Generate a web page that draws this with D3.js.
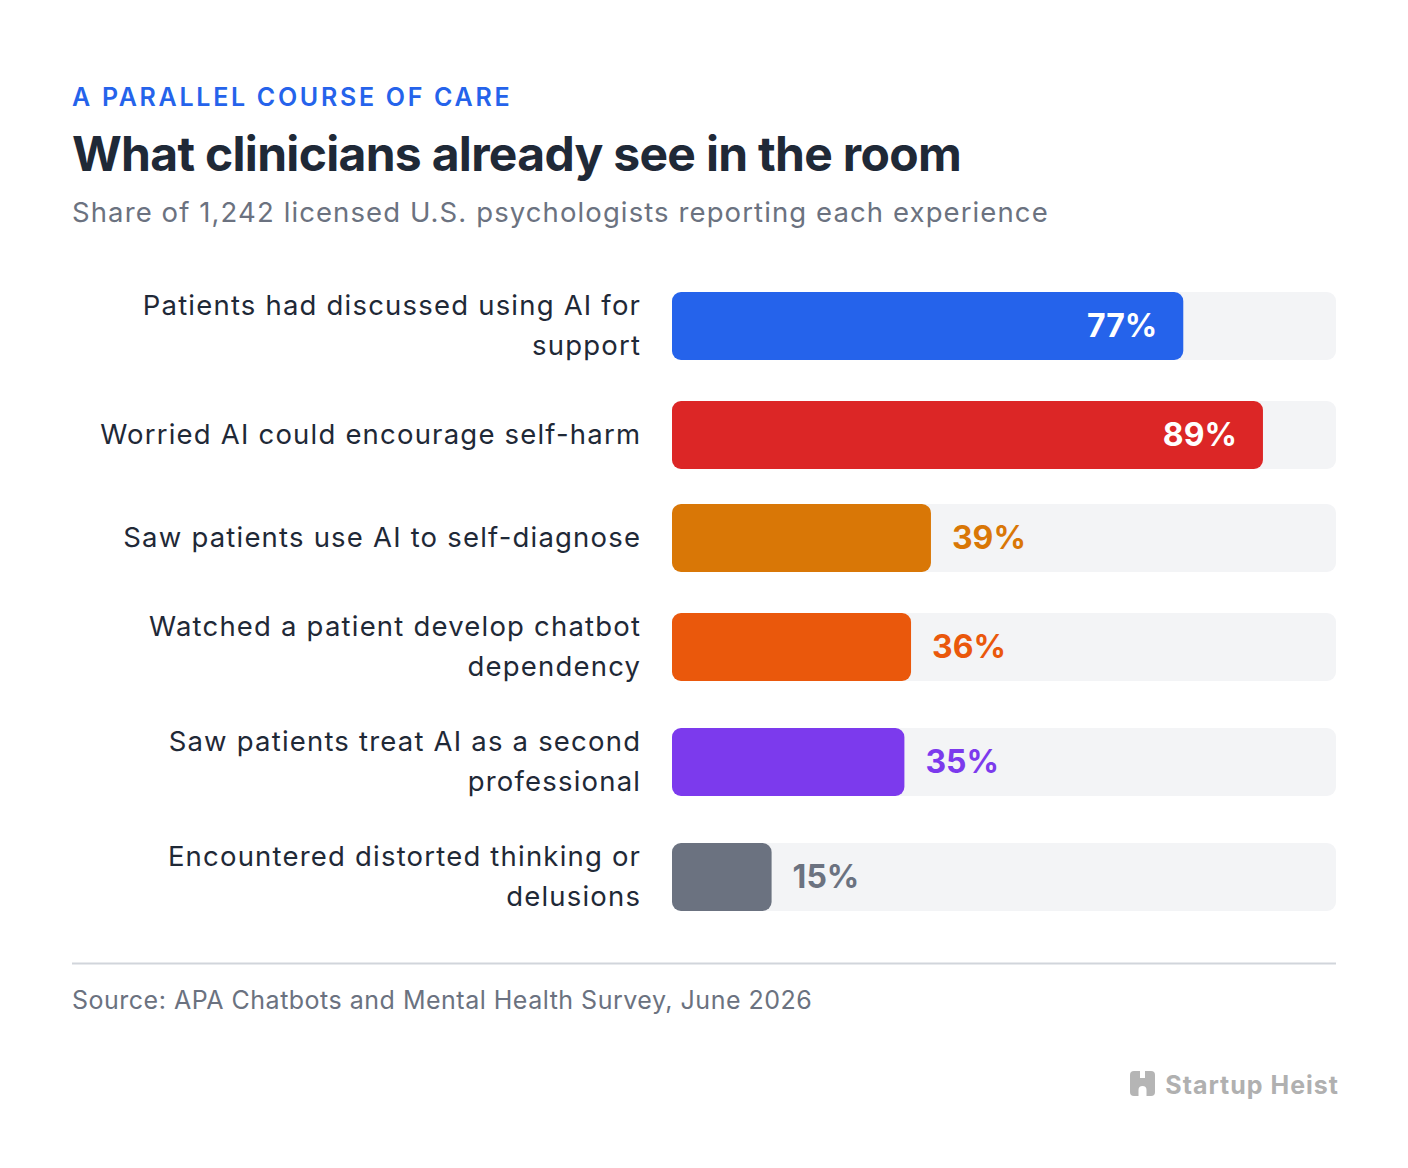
<!DOCTYPE html>
<html>
<head>
<meta charset="utf-8">
<script src="https://cdn.jsdelivr.net/npm/d3@7"></script>
<style>
  html, body { margin: 0; padding: 0; background: #ffffff; }
  svg { display: block; font-family: Inter, "Noto Sans", sans-serif; }
</style>
</head>
<body>
<svg id="chart" width="1408" height="1168"></svg>
<script>
// 数据
const categories = [
    'Patients had discussed using AI for support',
    'Worried AI could encourage self-harm',
    'Saw patients use AI to self-diagnose',
    'Watched a patient develop chatbot dependency',
    'Saw patients treat AI as a second professional',
    'Encountered distorted thinking or delusions'
];
const values = [77, 89, 39, 36, 35, 15];
const barColors = ['#2563eb', '#dc2626', '#d97706', '#ea580c', '#7c3aed', '#6b7280'];

const eyebrow = 'A PARALLEL COURSE OF CARE';
const title = 'What clinicians already see in the room';
const subtitle = 'Share of 1,242 licensed U.S. psychologists reporting each experience';
const source = 'Source: APA Chatbots and Mental Health Survey, June 2026';

const left = 72, right = 1336;
const labelRight = 640;
const trackLeft = 672;
const barH = 68;
const lineH = 40;
const rowGap = 35;
const firstRowTop = 286;
const labelSize = 27.5, labelSpacing = 1.2;

const svg = d3.select('#chart');

// 标题区
svg.append('text')
    .attr('x', left).attr('y', 106)
    .attr('fill', '#2563eb')
    .attr('font-size', 25).attr('font-weight', 600)
    .attr('letter-spacing', 2.7)
    .text(eyebrow);

svg.append('text')
    .attr('x', left).attr('y', 171)
    .attr('fill', '#1f2937')
    .attr('font-size', 48).attr('font-weight', 700)
    .attr('letter-spacing', -0.7)
    .text(title);

svg.append('text')
    .attr('x', left).attr('y', 222)
    .attr('fill', '#6b7280')
    .attr('font-size', 27.5)
    .attr('letter-spacing', 1.1)
    .text(subtitle);

const x = d3.scaleLinear().domain([0, 100]).range([trackLeft, right]);

// 标签换行
function wrapWords(text, maxW) {
    const probe = svg.append('text')
        .attr('font-size', labelSize)
        .attr('letter-spacing', labelSpacing)
        .attr('visibility', 'hidden');
    const words = text.split(' ');
    const lines = [];
    let cur = '';
    words.forEach(w => {
        const test = cur ? cur + ' ' + w : w;
        probe.text(test);
        if (probe.node().getComputedTextLength() > maxW && cur) {
            lines.push(cur);
            cur = w;
        } else {
            cur = test;
        }
    });
    if (cur) lines.push(cur);
    probe.remove();
    return lines;
}

const rows = [];
let rowTop = firstRowTop;
categories.forEach((c, i) => {
    const lines = wrapWords(c, labelRight - left);
    const h = Math.max(barH, lines.length * lineH);
    rows.push({ label: c, lines, value: values[i], color: barColors[i], cy: rowTop + h / 2 });
    rowTop += h + rowGap;
});

const row = svg.append('g').selectAll('g')
    .data(rows)
    .join('g');

// 底轨
row.append('rect')
    .attr('x', x(0))
    .attr('y', d => d.cy - barH / 2)
    .attr('width', x(100) - x(0))
    .attr('height', barH)
    .attr('rx', 9)
    .attr('fill', '#f3f4f6');

row.append('rect')
    .attr('x', x(0))
    .attr('y', d => d.cy - barH / 2)
    .attr('width', d => x(d.value) - x(0))
    .attr('height', barH)
    .attr('rx', 9)
    .attr('fill', d => d.color);

// 类别标签（补偿末尾字距）
row.append('text')
    .attr('text-anchor', 'end')
    .attr('font-size', labelSize)
    .attr('letter-spacing', labelSpacing)
    .attr('fill', '#1f2937')
    .each(function (d) {
        const t = d3.select(this);
        const n = d.lines.length;
        d.lines.forEach((ln, k) => {
            t.append('tspan')
                .attr('x', labelRight + labelSpacing)
                .attr('y', d.cy + (k - (n - 1) / 2) * lineH + 9)
                .text(ln);
        });
    });

// 数值标签
const inside = d => d.value >= 50;
row.append('text')
    .attr('x', d => inside(d) ? x(d.value) - 26 : x(d.value) + 21)
    .attr('y', d => d.cy + 11)
    .attr('text-anchor', d => inside(d) ? 'end' : 'start')
    .attr('font-size', 32)
    .attr('font-weight', 700)
    .attr('fill', d => inside(d) ? '#ffffff' : d.color)
    .text(d => d.value + '%');

// 分隔线与来源
svg.append('line')
    .attr('x1', left).attr('x2', right)
    .attr('y1', 963.5).attr('y2', 963.5)
    .attr('stroke', '#d1d5db').attr('stroke-width', 2);

svg.append('text')
    .attr('x', left).attr('y', 1009)
    .attr('fill', '#6b7280')
    .attr('font-size', 25)
    .attr('letter-spacing', 0.5)
    .text(source);

// 标志
const logo = svg.append('g').attr('transform', 'translate(1130,1071)');
logo.append('rect')
    .attr('width', 25).attr('height', 25).attr('rx', 4)
    .attr('fill', '#b5b5b5');
logo.append('rect')
    .attr('x', 10).attr('y', -1).attr('width', 5).attr('height', 8)
    .attr('fill', '#ffffff');
logo.append('path')
    .attr('d', 'M8.5,26 L8.5,19 A4,4 0 0 1 16.5,19 L16.5,26 Z')
    .attr('fill', '#ffffff');
svg.append('text')
    .attr('x', 1339).attr('y', 1094)
    .attr('text-anchor', 'end')
    .attr('fill', '#b0b0b0')
    .attr('font-size', 25).attr('font-weight', 700)
    .attr('letter-spacing', 1.0)
    .text('Startup Heist');
</script>
</body>
</html>
